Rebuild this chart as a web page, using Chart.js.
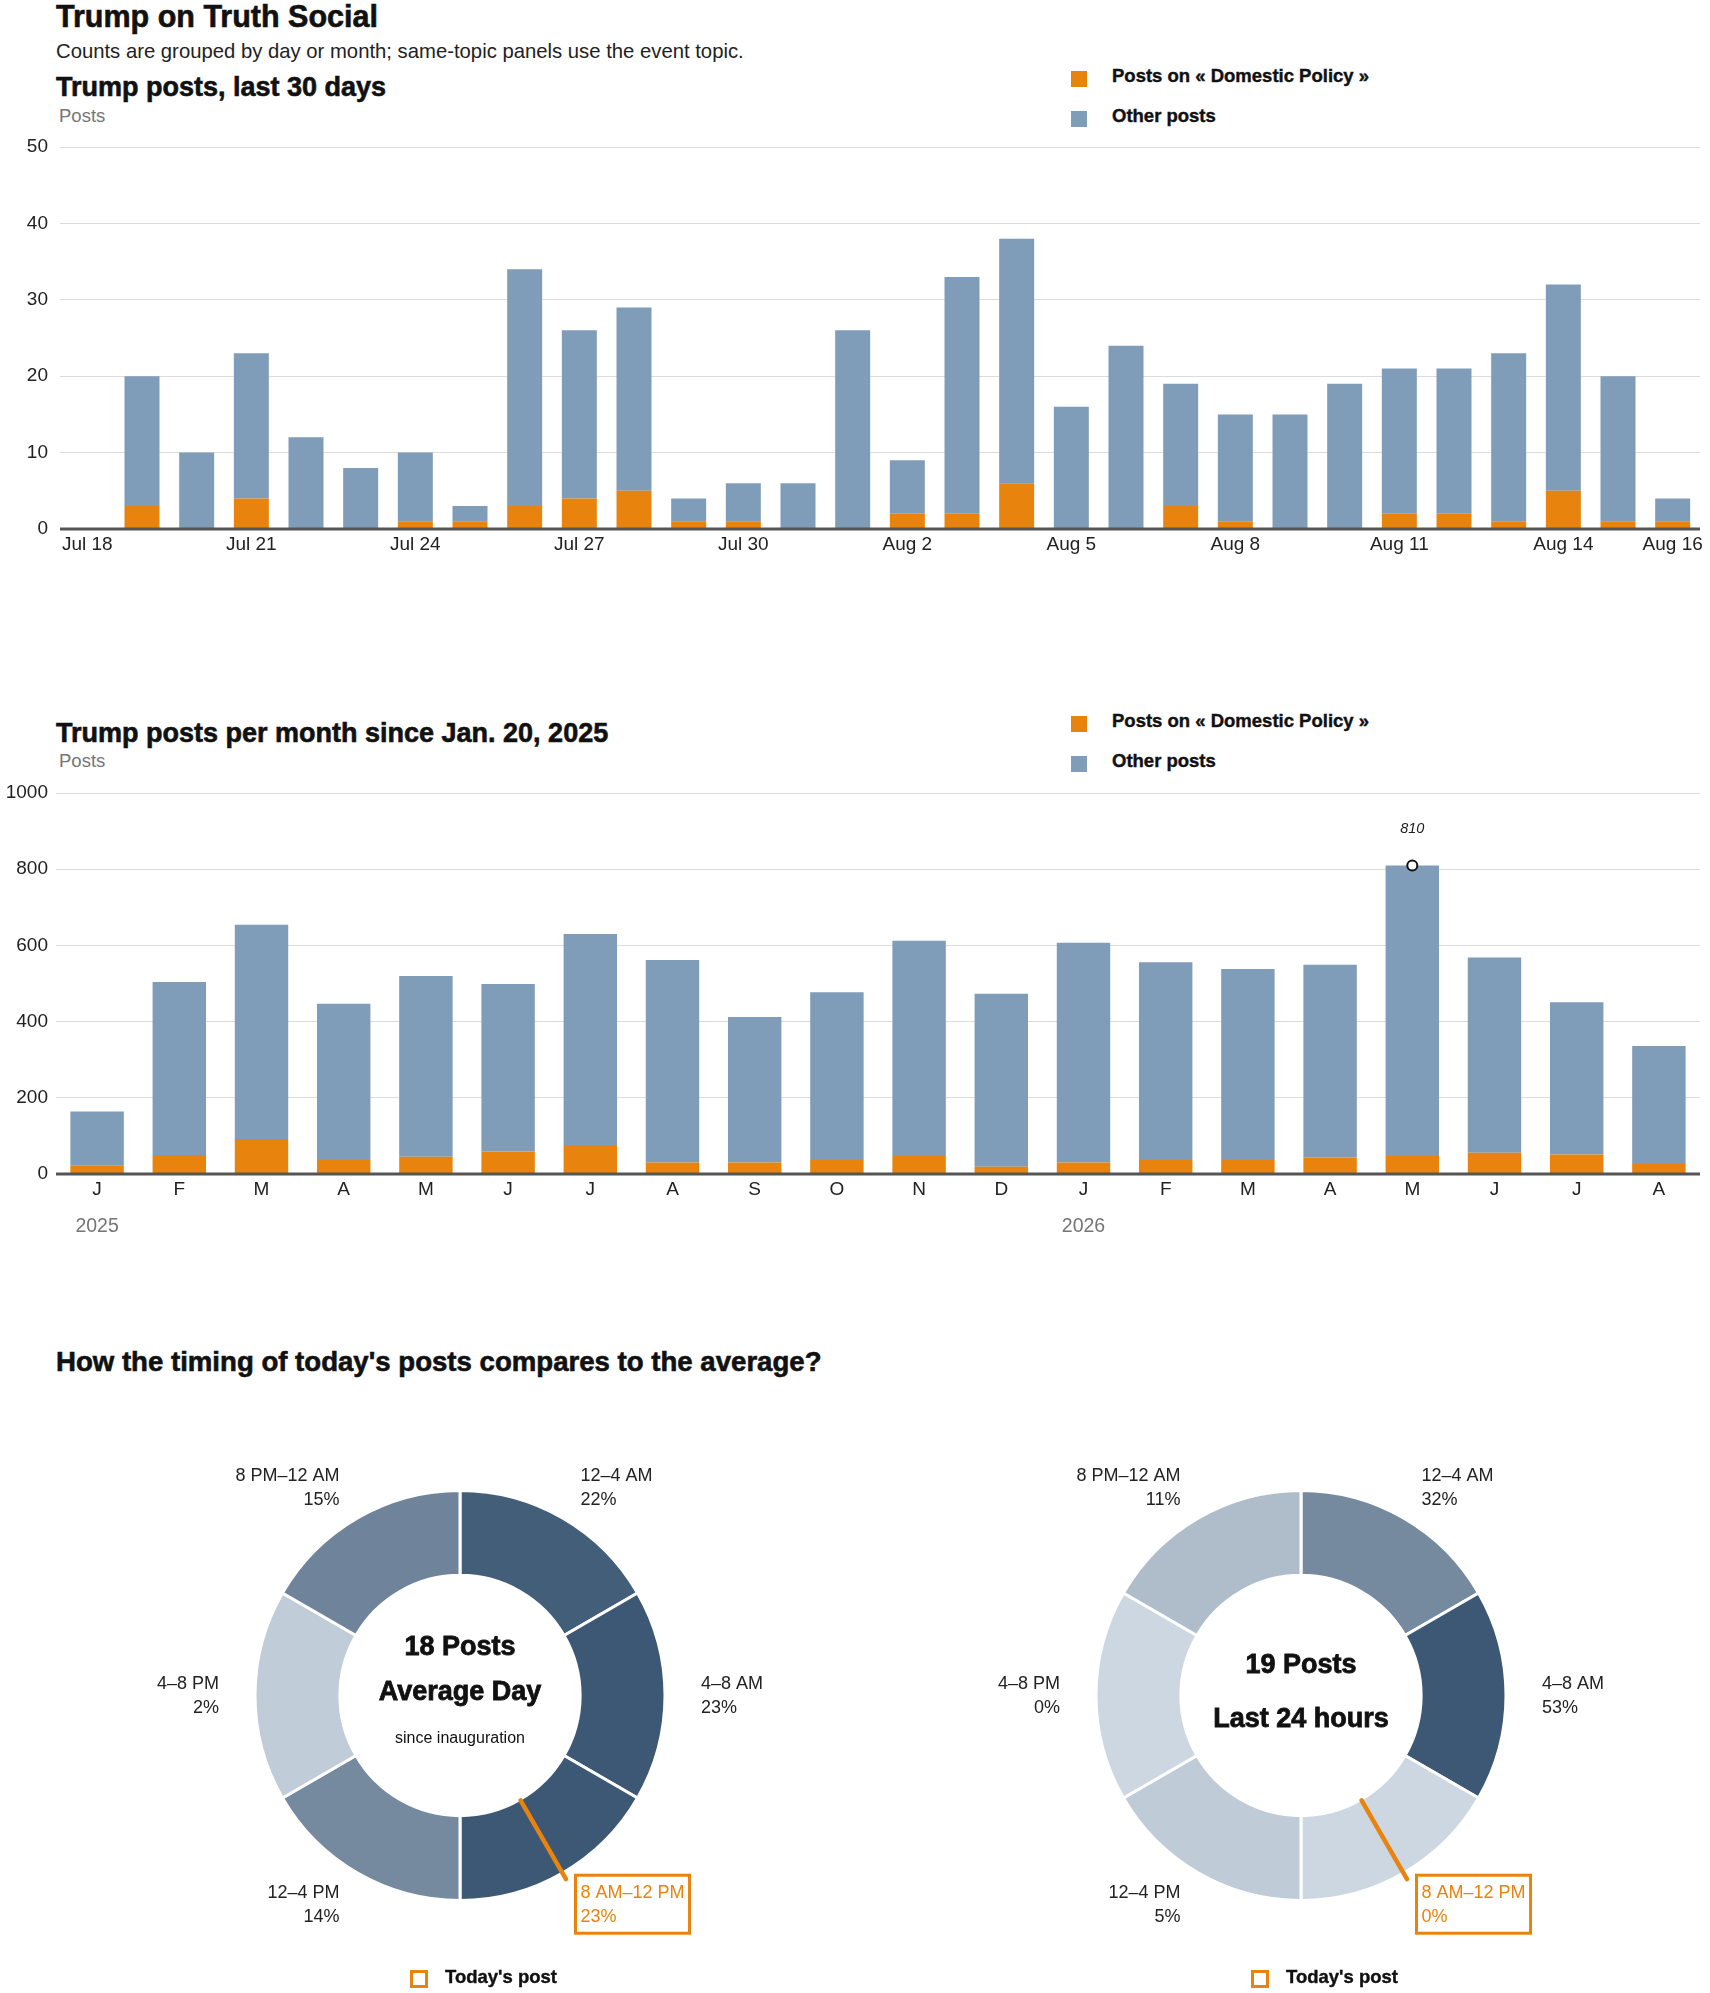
<!DOCTYPE html>
<html lang="en">
<head>
<meta charset="utf-8">
<title>Trump on Truth Social</title>
<script src="https://cdn.jsdelivr.net/npm/chart.js@4.4.1/dist/chart.umd.min.js"></script>
<style>
    body {
        margin: 0;
        background: #fff;
        font-family: "Liberation Sans", Arial, sans-serif;
        color: #111;
    }
    .page { position: relative; width: 1710px; height: 1993px; overflow: hidden; }
    .txt { position: absolute; white-space: nowrap; line-height: 1; }
    .bold { font-weight: bold; -webkit-text-stroke: 0.4px #111; }
    .head { font-weight: bold; font-size: 27px; -webkit-text-stroke: 0.6px #111; }
    .gray { color: #757575; }
    .swatch { position: absolute; width: 16px; height: 16px; }
    .today-box { position: absolute; width: 18px; height: 18px; box-sizing: border-box; border: 3px solid #e8830e; }
    canvas { position: absolute; }
</style>
</head>
<body>
<div class="page">
    <div class="txt head" style="left:56px; top:1px; font-size:30.5px;">Trump on Truth Social</div>
    <div class="txt" style="left:56px; top:41px; font-size:20.3px; color:#222;">Counts are grouped by day or month; same-topic panels use the event topic.</div>

    <div class="txt head" style="left:56px; top:74px;">Trump posts, last 30 days</div>
    <div class="txt gray" style="left:59px; top:107px; font-size:18.5px;">Posts</div>
    <div class="swatch" style="left:1071px; top:71px; background:#e8830e;"></div>
    <div class="txt bold" style="left:1112px; top:67px; font-size:18.5px;">Posts on « Domestic Policy »</div>
    <div class="swatch" style="left:1071px; top:111px; background:#7f9db8;"></div>
    <div class="txt bold" style="left:1112px; top:107px; font-size:18.5px;">Other posts</div>
    <canvas id="dailyChart" width="1710" height="440" style="left:0; top:120px;"></canvas>

    <div class="txt head" style="left:56px; top:720px;">Trump posts per month since Jan. 20, 2025</div>
    <div class="txt gray" style="left:59px; top:752px; font-size:18.5px;">Posts</div>
    <div class="swatch" style="left:1071px; top:716px; background:#e8830e;"></div>
    <div class="txt bold" style="left:1112px; top:712px; font-size:18.5px;">Posts on « Domestic Policy »</div>
    <div class="swatch" style="left:1071px; top:756px; background:#7f9db8;"></div>
    <div class="txt bold" style="left:1112px; top:752px; font-size:18.5px;">Other posts</div>
    <canvas id="monthlyChart" width="1710" height="474" style="left:0; top:770px;"></canvas>

    <div class="txt head" style="left:56px; top:1348px; font-size:27.6px;">How the timing of today's posts compares to the average?</div>
    <canvas id="avgDonut" width="760" height="551" style="left:80px; top:1420px;"></canvas>
    <canvas id="todayDonut" width="760" height="551" style="left:921px; top:1420px;"></canvas>
    <div class="today-box" style="left:410px; top:1970px;"></div>
    <div class="txt bold" style="left:445px; top:1968px; font-size:18.5px;">Today's post</div>
    <div class="today-box" style="left:1251px; top:1970px;"></div>
    <div class="txt bold" style="left:1286px; top:1968px; font-size:18.5px;">Today's post</div>
</div>

<script>
// Panel 1: last 30 days
const dayLabels = ['Jul 18', 'Jul 19', 'Jul 20', 'Jul 21', 'Jul 22', 'Jul 23', 'Jul 24', 'Jul 25', 'Jul 26', 'Jul 27',
    'Jul 28', 'Jul 29', 'Jul 30', 'Jul 31', 'Aug 1', 'Aug 2', 'Aug 3', 'Aug 4', 'Aug 5', 'Aug 6',
    'Aug 7', 'Aug 8', 'Aug 9', 'Aug 10', 'Aug 11', 'Aug 12', 'Aug 13', 'Aug 14', 'Aug 15', 'Aug 16'];
const dayTickLabels = ['Jul 18', 'Jul 21', 'Jul 24', 'Jul 27', 'Jul 30', 'Aug 2', 'Aug 5', 'Aug 8', 'Aug 11', 'Aug 14', 'Aug 16'];
const dailyDomestic = [0, 3, 0, 4, 0, 0, 1, 1, 3, 4, 5, 1, 1, 0, 0, 2, 2, 6, 0, 0, 3, 1, 0, 0, 2, 2, 1, 5, 1, 1];
const dailyOther = [0, 17, 10, 19, 12, 8, 9, 2, 31, 22, 24, 3, 5, 6, 26, 7, 31, 32, 16, 24, 16, 14, 15, 19, 19, 19, 22, 27, 19, 3];
const dailyYTicks = [0, 10, 20, 30, 40, 50];

// Panel 2: per month since inauguration
const monthLabels = ['J', 'F', 'M', 'A', 'M', 'J', 'J', 'A', 'S', 'O', 'N', 'D', 'J', 'F', 'M', 'A', 'M', 'J', 'J', 'A'];
const monthDomestic = [23, 50, 92, 37, 45, 59, 76, 30, 30, 37, 47, 19, 30, 37, 37, 43, 47, 56, 51, 26];
const monthOther = [141, 454, 562, 410, 475, 440, 554, 532, 382, 440, 565, 454, 577, 519, 501, 506, 763, 512, 400, 310];
const monthYTicks = [0, 200, 400, 600, 800, 1000];
const yearNames = ['2025', '2026'];
const yearStartIndex = [0, 12];

// Panel 3: time of day
const timeSlots = ['12–4 AM', '4–8 AM', '8 AM–12 PM', '12–4 PM', '4–8 PM', '8 PM–12 AM'];
const slotHours = [4, 4, 4, 4, 4, 4];
const avgSharePct = [22, 23, 23, 14, 2, 15];
const last24SharePct = [32, 53, 0, 5, 0, 11];
const avgPostsPerDay = 18;
const last24Posts = 19;
const todaySlot = 2;

const ORANGE = '#e8830e';
const BLUE = '#7f9db8';
const FONT = '"Liberation Sans", Arial, sans-serif';

document.addEventListener('DOMContentLoaded', () => {

    // dark zero line drawn over the bars
    const baseline = {
        id: 'baseline',
        afterDatasetsDraw(chart) {
            const { ctx, chartArea, scales } = chart;
            const y = scales.y.getPixelForValue(0);
            ctx.save();
            ctx.strokeStyle = '#555';
            ctx.lineWidth = 3;
            ctx.beginPath();
            ctx.moveTo(chartArea.left, y);
            ctx.lineTo(chartArea.right, y);
            ctx.stroke();
            ctx.restore();
        }
    };

    function barChart(id, labels, domestic, other, yTicks, cfg) {
        return new Chart(document.getElementById(id), {
            type: 'bar',
            data: {
                labels: labels,
                datasets: [
                    { label: 'Posts on « Domestic Policy »', data: domestic, backgroundColor: ORANGE },
                    { label: 'Other posts', data: other, backgroundColor: BLUE }
                ]
            },
            options: {
                responsive: false,
                animation: false,
                layout: { padding: { top: cfg.padTop, right: 10, left: 0, bottom: 0 } },
                datasets: { bar: { categoryPercentage: 1, barPercentage: cfg.barPct } },
                scales: {
                    x: {
                        stacked: true,
                        grid: { display: false },
                        border: { display: false },
                        ticks: {
                            color: '#222',
                            font: { family: FONT, size: 19 },
                            padding: -4,
                            autoSkip: false,
                            maxRotation: 0,
                            callback: function(value) {
                                const l = this.getLabelForValue(value);
                                return cfg.shownTicks && !cfg.shownTicks.includes(l) ? '' : l;
                            }
                        },
                        afterFit: s => { s.height = cfg.xHeight; }
                    },
                    y: {
                        stacked: true,
                        min: 0,
                        max: yTicks[yTicks.length - 1],
                        border: { display: false },
                        grid: {
                            drawTicks: false,
                            color: c => c.tick.value === 0 ? 'rgba(0,0,0,0)' : '#dcdcdc'
                        },
                        ticks: {
                            color: '#222',
                            font: { family: FONT, size: 19 },
                            padding: cfg.yWidth - 48,
                            callback: v => String(v)
                        },
                        afterBuildTicks: s => { s.ticks = yTicks.map(v => ({ value: v })); },
                        afterFit: s => { s.width = cfg.yWidth; }
                    }
                },
                plugins: { legend: { display: false }, tooltip: { enabled: false } }
            },
            plugins: [baseline].concat(cfg.extra || [])
        });
    }

    barChart('dailyChart', dayLabels, dailyDomestic, dailyOther, dailyYTicks, {
        padTop: 27, barPct: 0.64, xHeight: 31, yWidth: 60, shownTicks: dayTickLabels
    });

    // year captions + callout on the busiest month
    const monthExtras = {
        id: 'monthExtras',
        afterDatasetsDraw(chart) {
            const { ctx, chartArea, scales } = chart;
            ctx.save();
            ctx.fillStyle = '#757575';
            ctx.font = '19.5px ' + FONT;
            ctx.textAlign = 'center';
            ctx.textBaseline = 'middle';
            yearNames.forEach((name, i) => {
                ctx.fillText(name, scales.x.getPixelForValue(yearStartIndex[i]), chartArea.bottom + 53);
            });

            const totals = monthOther.map((v, i) => v + monthDomestic[i]);
            const top = totals.indexOf(Math.max(...totals));
            const x = scales.x.getPixelForValue(top);
            const y = scales.y.getPixelForValue(totals[top]);
            ctx.beginPath();
            ctx.arc(x, y, 5, 0, Math.PI * 2);
            ctx.fillStyle = '#fff';
            ctx.fill();
            ctx.strokeStyle = '#111';
            ctx.lineWidth = 2;
            ctx.stroke();
            ctx.fillStyle = '#222';
            ctx.font = 'italic 14.5px ' + FONT;
            ctx.fillText(String(totals[top]), x, y - 36);
            ctx.restore();
        }
    };

    barChart('monthlyChart', monthLabels, monthDomestic, monthOther, monthYTicks, {
        padTop: 23, barPct: 0.65, xHeight: 70, yWidth: 56, extra: [monthExtras]
    });

    // colour from light grey-blue to dark slate, by share of the biggest slot
    function shade(t) {
        const a = [205, 215, 225], b = [61, 88, 116];
        const c = a.map((v, i) => Math.round(v + (b[i] - v) * t));
        return 'rgb(' + c.join(',') + ')';
    }

    function donutText(shares, centerLines) {
        return {
            id: 'donutText',
            afterDatasetsDraw(chart) {
                const ctx = chart.ctx;
                const arcs = chart.getDatasetMeta(0).data;
                const cx = arcs[0].x, cy = arcs[0].y;
                const outer = arcs[0].outerRadius, inner = arcs[0].innerRadius;
                ctx.save();
                ctx.textBaseline = 'middle';
                arcs.forEach((arc, i) => {
                    const mid = (arc.startAngle + arc.endAngle) / 2;
                    const cos = Math.cos(mid), sin = Math.sin(mid);
                    const lx = cx + cos * (outer + 36);
                    const ly = cy + sin * (outer + 36) + 1;
                    ctx.textAlign = cos >= 0 ? 'left' : 'right';
                    ctx.font = '18px ' + FONT;
                    const hot = i === todaySlot;
                    ctx.fillStyle = hot ? ORANGE : '#222';
                    ctx.fillText(timeSlots[i], lx, ly - 12);
                    ctx.fillText(shares[i] + '%', lx, ly + 12);
                    if (hot) {
                        const w = ctx.measureText(timeSlots[i]).width;
                        ctx.strokeStyle = ORANGE;
                        ctx.lineWidth = 3;
                        ctx.strokeRect(cos >= 0 ? lx - 5 : lx - w - 5, ly - 30, w + 10, 58);
                        // needle for today's slot
                        ctx.lineWidth = 4.5;
                        ctx.lineCap = 'round';
                        ctx.beginPath();
                        ctx.moveTo(cx + cos * (inner + 1), cy + sin * (inner + 1));
                        ctx.lineTo(cx + cos * (outer + 7), cy + sin * (outer + 7));
                        ctx.stroke();
                    }
                });
                ctx.textAlign = 'center';
                ctx.fillStyle = '#111';
                ctx.strokeStyle = '#111';
                centerLines.forEach(l => {
                    ctx.font = l.font;
                    ctx.fillText(l.text, cx, cy + l.dy);
                    if (l.heavy) {
                        ctx.lineWidth = 0.8;
                        ctx.strokeText(l.text, cx, cy + l.dy);
                    }
                });
                ctx.restore();
            }
        };
    }

    function donut(id, shares, centerLines) {
        const maxShare = Math.max(...shares);
        return new Chart(document.getElementById(id), {
            type: 'doughnut',
            data: {
                labels: timeSlots,
                datasets: [{
                    data: slotHours,
                    backgroundColor: shares.map(v => shade(v / maxShare)),
                    borderColor: '#fff',
                    borderWidth: 3
                }]
            },
            options: {
                responsive: false,
                animation: false,
                radius: 205,
                cutout: '58.6%',
                layout: { padding: 0 },
                plugins: { legend: { display: false }, tooltip: { enabled: false } }
            },
            plugins: [donutText(shares, centerLines)]
        });
    }

    donut('avgDonut', avgSharePct, [
        { text: avgPostsPerDay + ' Posts', font: 'bold 27px ' + FONT, dy: -48, heavy: true },
        { text: 'Average Day', font: 'bold 27px ' + FONT, dy: -3, heavy: true },
        { text: 'since inauguration', font: '16px ' + FONT, dy: 43 }
    ]);
    donut('todayDonut', last24SharePct, [
        { text: last24Posts + ' Posts', font: 'bold 27px ' + FONT, dy: -30, heavy: true },
        { text: 'Last 24 hours', font: 'bold 27px ' + FONT, dy: 24, heavy: true }
    ]);
});
</script>
</body>
</html>
